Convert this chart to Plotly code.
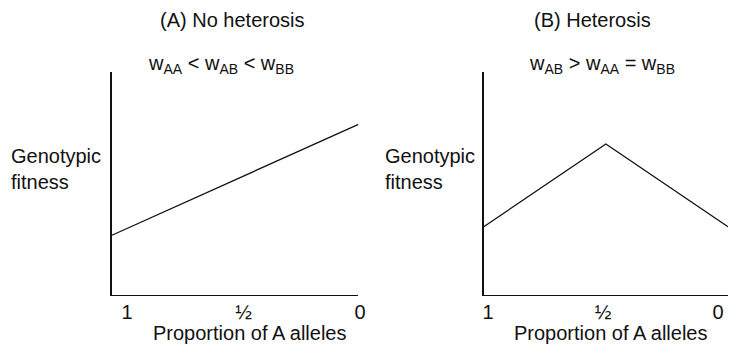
import plotly.graph_objects as go

# Data
proportion_A = [1, 0.5, 0]
fitness_no_heterosis = [0.267, 0.516, 0.765]
fitness_heterosis = [0.305, 0.677, 0.305]
tick_vals = [1, 0.5, 0]
tick_text = ["1", "½", "0"]

W, H = 734, 344
FONT = "Liberation Sans, Arial, Helvetica, sans-serif"
black = "#111111"

def px(x):
    return x / W

def py(y):
    return 1 - y / H

fig = go.Figure()
fig.add_trace(go.Scatter(x=proportion_A, y=fitness_no_heterosis, mode="lines",
                         line=dict(color=black, width=1.3), xaxis="x", yaxis="y",
                         showlegend=False, hoverinfo="skip"))
fig.add_trace(go.Scatter(x=proportion_A, y=fitness_heterosis, mode="lines",
                         line=dict(color=black, width=1.3), xaxis="x2", yaxis="y2",
                         showlegend=False, hoverinfo="skip", cliponaxis=False))
# carrier traces (no visible marks) so the tick-label axes are drawn
for xa, ya in (("x3", "y"), ("x4", "y2")):
    fig.add_trace(go.Scatter(x=tick_vals, y=[None] * len(tick_vals), mode="lines",
                             xaxis=xa, yaxis=ya, showlegend=False, hoverinfo="skip"))

ydom = [py(294.7), py(72)]
main_x = dict(range=[1, 0], showgrid=False, zeroline=False, showline=True,
              linecolor=black, linewidth=1.5, showticklabels=False, ticks="",
              fixedrange=True)
main_y = dict(range=[0, 1], showgrid=False, zeroline=False, showline=True,
              linecolor=black, linewidth=1.5, showticklabels=False, ticks="",
              domain=ydom, fixedrange=True)
label_x = dict(range=[1, 0], showgrid=False, zeroline=False, showline=False,
               tickmode="array", tickvals=tick_vals, ticktext=tick_text, ticks="",
               tickfont=dict(family=FONT, size=20, color=black),
               ticklabelstandoff=3, fixedrange=True)

fig.update_layout(
    width=W, height=H,
    margin=dict(l=0, r=0, t=0, b=0),
    paper_bgcolor="white", plot_bgcolor="rgba(0,0,0,0)",
    xaxis=dict(main_x, domain=[px(107.7), px(358.3)], anchor="y"),
    yaxis=dict(main_y, anchor="x"),
    xaxis2=dict(main_x, domain=[px(485.7), px(734)], anchor="y2"),
    yaxis2=dict(main_y, anchor="x2"),
    xaxis3=dict(label_x, domain=[px(123), px(360)], anchor="y"),
    xaxis4=dict(label_x, domain=[px(490), px(724)], anchor="y2"),
)

def ann(text, x, y, size=20, xanchor="center"):
    fig.add_annotation(text=text, x=px(x), y=py(y), xref="paper", yref="paper",
                       showarrow=False, xanchor=xanchor, yanchor="middle",
                       align="left", font=dict(family=FONT, size=size, color=black))

ann("(A) No heterosis", 230, 20)
ann("(B) Heterosis", 596, 20)
ann("w<sub>AA</sub> &lt; w<sub>AB</sub> &lt; w<sub>BB</sub>", 219, 64)
ann("w<sub>AB</sub> &gt; w<sub>AA</sub> = w<sub>BB</sub>", 606, 64)
ann("Genotypic<br>fitness", 3, 169, xanchor="left")
ann("Genotypic<br>fitness", 383, 169, xanchor="left")
ann("Proportion of A alleles", 248, 333)
ann("Proportion of A alleles", 615, 333)

fig.write_html("out.html", post_script="document.body.style.margin='0';",
               config={"displayModeBar": False, "staticPlot": True})
